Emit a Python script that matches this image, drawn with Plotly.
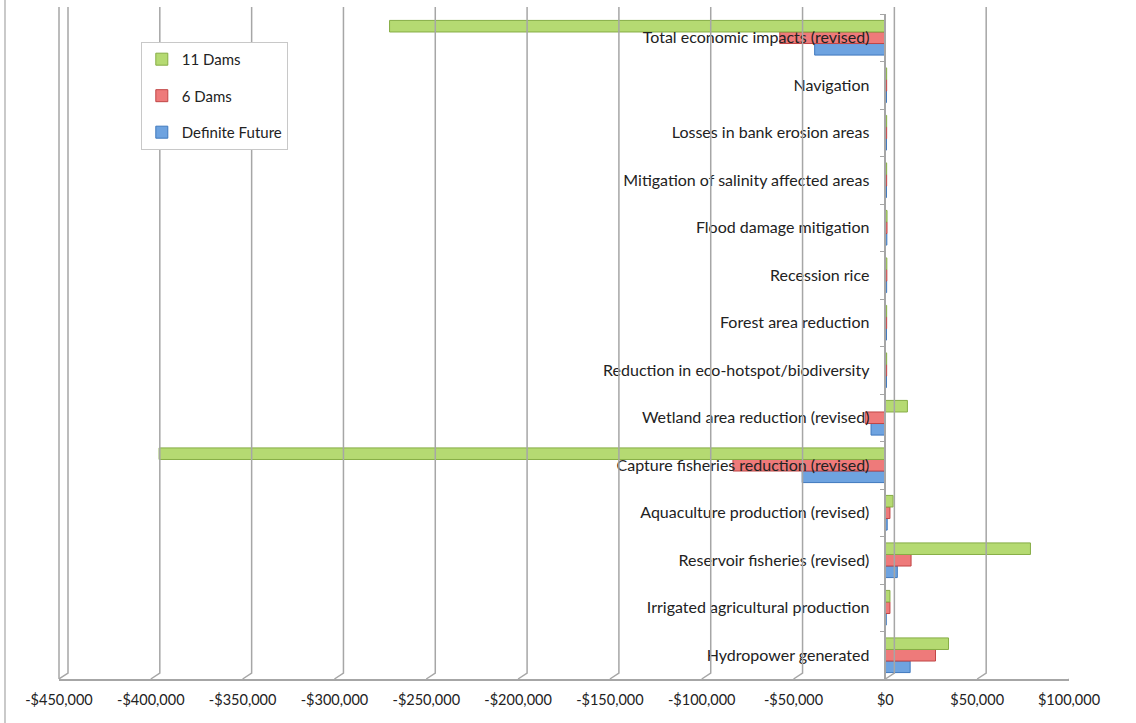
import plotly.graph_objects as go

categories = [
    "Hydropower generated",
    "Irrigated agricultural production",
    "Reservoir fisheries (revised)",
    "Aquaculture production (revised)",
    "Capture fisheries reduction (revised)",
    "Wetland area reduction (revised)",
    "Reduction in eco-hotspot/biodiversity",
    "Forest area reduction",
    "Recession rice",
    "Flood damage mitigation",
    "Mitigation of salinity affected areas",
    "Losses in bank erosion areas",
    "Navigation",
    "Total economic impacts (revised)",
]

dams11 = [34400, 2500, 79000, 4200, -395500, 12000, 700, 700, 800, 900, 700, 700, 700, -270000]
dams6 = [27300, 2500, 14000, 2500, -83000, -11000, 700, 700, 800, 900, 700, 700, 700, -57500]
definite = [13500, 500, 6500, 1000, -45300, -7800, 600, 600, 700, 800, 600, 600, 600, -38500]

tick_vals = [-450000, -400000, -350000, -300000, -250000, -200000, -150000,
             -100000, -50000, 0, 50000, 100000]
tick_text = ["-$450,000", "-$400,000", "-$350,000", "-$300,000", "-$250,000",
             "-$200,000", "-$150,000", "-$100,000", "-$50,000", "$0",
             "$50,000", "$100,000"]

X_MIN, X_MAX = -450000, 100000
FONT = "Lato, 'Open Sans', sans-serif"

fig = go.Figure()
series = [
    ("Definite Future", definite, "#6ea3e0", "#3f78bd", 3),
    ("6 Dams", dams6, "#ee7a7a", "#c04646", 2),
    ("11 Dams", dams11, "#b5da72", "#86ad45", 1),
]
for i, (name, vals, col, edge, rank) in enumerate(series):
    fig.add_trace(go.Bar(
        y=categories, x=vals, name=name, orientation="h",
        marker=dict(color=col, line=dict(color=edge, width=1)),
        legendgroup="g%d" % i, legendrank=rank,
    ))

# 3D-like gridlines: front tick -> back wall line
plot_w = 1010.0
px_per_unit = plot_w / (X_MAX - X_MIN)
off = 9 / px_per_unit
dy = 6 / 665.0
top = 1 + 7 / 665.0
shapes = []
for t in tick_vals:
    shapes.append(dict(
        type="path", xref="x", yref="paper",
        path="M %f,0 L %f,%f L %f,%f" % (t, t + off, dy, t + off, top),
        line=dict(color="#a6a6a6", width=1.5),
    ))
# left wall front edge
shapes.append(dict(type="line", xref="paper", yref="paper", x0=0, x1=0, y0=0, y1=top,
                   line=dict(color="#a6a6a6", width=1.5)))
# chart border on the left
shapes.append(dict(type="line", xref="paper", yref="paper", x0=-54 / plot_w, x1=-54 / plot_w,
                   y0=-50 / 665.0, y1=1.03, line=dict(color="#a6a6a6", width=1.2)))

fig.update_layout(
    width=1136, height=723,
    margin=dict(l=59, r=67, t=14, b=44),
    paper_bgcolor="white", plot_bgcolor="white",
    barmode="group", bargap=0.27, bargroupgap=0.0,
    font=dict(family=FONT, size=14, color="#222222"),
    shapes=shapes,
    showlegend=True,
    legend=dict(
        x=0.081, y=0.958, xanchor="left", yanchor="top",
        bordercolor="#c8c8c8", borderwidth=1, bgcolor="white",
        traceorder="grouped", tracegroupgap=14,
        font=dict(family=FONT, size=15, color="#222222"),
        itemwidth=30,
    ),
    xaxis=dict(
        range=[X_MIN, X_MAX], tickvals=tick_vals, ticktext=tick_text,
        showgrid=False, zeroline=False, showline=True, linecolor="#a6a6a6", linewidth=1.5,
        ticks="", ticklabelstandoff=7,
        tickfont=dict(family=FONT, size=14.5, color="#222222"),
        fixedrange=True,
    ),
    yaxis=dict(
        type="category", categoryorder="array", categoryarray=categories,
        range=[-0.5, 13.5],
        anchor="free", position=(0 - X_MIN) / (X_MAX - X_MIN),
        showline=True, linecolor="#a6a6a6", linewidth=1.5,
        ticks="outside", ticklen=5, tickcolor="#a6a6a6", tickson="boundaries",
        ticklabelstandoff=12,
        showgrid=False, zeroline=False,
        tickfont=dict(family=FONT, size=16, color="#222222"),
    ),
)

fig.write_html("out.html")
